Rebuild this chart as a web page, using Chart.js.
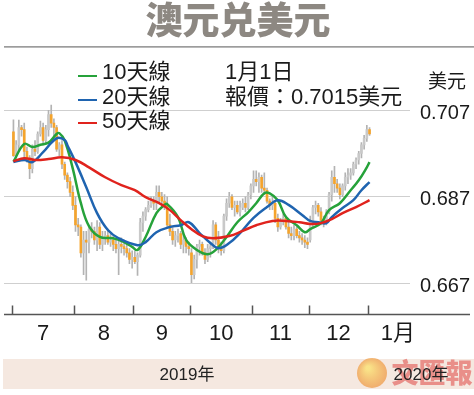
<!DOCTYPE html>
<html>
<head>
<meta charset="utf-8">
<script src="https://cdn.jsdelivr.net/npm/chart.js@4/dist/chart.umd.min.js"></script>
<style>
  body { margin: 0; background: #fff; }
  canvas { display: block; }
</style>
</head>
<body>
<canvas id="audChart" width="474" height="395"></canvas>
<script>
// trading days, 0 = 1 Jul 2019 ... 132 = 1 Jan 2020
const openPrices = [
  .7020, .6965, .6990, .7030, .7025, .6975, .6960, .6935, .6980, .6975,
  .7015, .7030, .7000, .7025, .7060, .7040, .7030, .6980, .6990, .6945,
  .6920, .6905, .6880, .6850, .6805, .6800, .6740, .6770, .6765, .6795,
  .6790, .6770, .6800, .6760, .6775, .6780, .6765, .6770, .6760, .6750,
  .6760, .6755, .6750, .6740, .6725, .6730, .6720, .6735, .6810, .6825,
  .6840, .6850, .6860, .6855, .6880, .6870, .6860, .6850, .6805, .6790,
  .6770, .6780, .6785, .6760, .6770, .6755, .6740, .6690, .6725, .6755,
  .6760, .6740, .6725, .6750, .6755, .6805, .6770, .6750, .6745, .6825,
  .6855, .6870, .6845, .6850, .6835, .6845, .6855, .6845, .6875, .6895,
  .6910, .6905, .6915, .6890, .6885, .6860, .6850, .6855, .6820, .6800,
  .6815, .6820, .6800, .6785, .6780, .6795, .6780, .6775, .6770, .6765,
  .6770, .6815, .6845, .6850, .6835, .6815, .6810, .6835, .6875, .6915,
  .6900, .6890, .6875, .6895, .6915, .6920, .6925, .6945, .6955, .6970,
  .6990, .7005, .7025
];
const highPrices = [
  .7048, .7000, .7047, .7035, .7040, .6985, .6965, .6990, .7000, .7020,
  .7045, .7040, .7035, .7070, .7082, .7050, .7035, .6995, .7000, .6950,
  .6925, .6915, .6895, .6870, .6820, .6805, .6790, .6790, .6800, .6810,
  .6800, .6815, .6810, .6790, .6790, .6795, .6785, .6780, .6775, .6775,
  .6775, .6770, .6760, .6750, .6745, .6745, .6740, .6820, .6835, .6845,
  .6860, .6870, .6870, .6895, .6895, .6880, .6875, .6870, .6830, .6800,
  .6790, .6795, .6790, .6785, .6775, .6765, .6750, .6735, .6760, .6770,
  .6765, .6750, .6760, .6765, .6815, .6810, .6790, .6765, .6830, .6865,
  .6880, .6875, .6860, .6860, .6860, .6865, .6870, .6880, .6900, .6930,
  .6930, .6925, .6920, .6925, .6890, .6865, .6870, .6860, .6830, .6820,
  .6830, .6825, .6815, .6800, .6805, .6800, .6790, .6785, .6780, .6775,
  .6825, .6850, .6860, .6855, .6845, .6825, .6840, .6880, .6930, .6940,
  .6910, .6900, .6900, .6925, .6935, .6935, .6950, .6960, .6975, .6995,
  .7012, .7035, .7030
];
const lowPrices = [
  .6963, .6960, .6975, .7010, .6960, .6950, .6912, .6925, .6965, .6970,
  .7010, .6990, .6995, .7010, .7030, .7010, .6975, .6965, .6935, .6910,
  .6890, .6870, .6840, .6790, .6780, .6730, .6690, .6677, .6740, .6775,
  .6760, .6745, .6750, .6745, .6760, .6760, .6755, .6745, .6740, .6690,
  .6740, .6735, .6730, .6715, .6705, .6715, .6688, .6730, .6790, .6815,
  .6835, .6845, .6840, .6840, .6855, .6850, .6840, .6800, .6780, .6760,
  .6755, .6765, .6750, .6740, .6740, .6735, .6671, .6680, .6705, .6735,
  .6735, .6715, .6720, .6730, .6750, .6760, .6740, .6735, .6740, .6815,
  .6845, .6840, .6825, .6830, .6825, .6840, .6835, .6840, .6865, .6880,
  .6895, .6880, .6880, .6875, .6855, .6840, .6840, .6810, .6790, .6795,
  .6805, .6795, .6775, .6770, .6770, .6775, .6765, .6760, .6752, .6750,
  .6765, .6800, .6830, .6825, .6805, .6800, .6805, .6830, .6860, .6880,
  .6880, .6865, .6870, .6885, .6900, .6910, .6920, .6935, .6945, .6960,
  .6980, .6998, .7012
];
const closePrices = [
  .6965, .6990, .7030, .7025, .6975, .6960, .6935, .6980, .6975, .7015,
  .7030, .7000, .7025, .7060, .7040, .7030, .6980, .6990, .6945, .6920,
  .6905, .6880, .6850, .6805, .6800, .6740, .6770, .6765, .6795, .6790,
  .6770, .6800, .6760, .6775, .6780, .6765, .6770, .6760, .6750, .6760,
  .6755, .6750, .6740, .6725, .6730, .6720, .6735, .6810, .6825, .6840,
  .6850, .6860, .6855, .6880, .6870, .6860, .6850, .6805, .6790, .6770,
  .6780, .6785, .6760, .6770, .6755, .6750, .6690, .6725, .6755, .6760,
  .6740, .6725, .6750, .6755, .6805, .6770, .6750, .6745, .6825, .6855,
  .6870, .6845, .6850, .6835, .6845, .6855, .6845, .6875, .6895, .6910,
  .6905, .6915, .6890, .6885, .6860, .6850, .6855, .6820, .6800, .6815,
  .6820, .6800, .6785, .6780, .6795, .6780, .6775, .6770, .6765, .6760,
  .6815, .6845, .6850, .6835, .6815, .6810, .6835, .6875, .6915, .6900,
  .6890, .6875, .6895, .6915, .6920, .6925, .6945, .6955, .6970, .6990,
  .7005, .7025, .7015
];

// moving averages (trading-day index, value)
const ma10Days = [0, 4, 7, 10, 13, 16, 17, 19, 22, 25, 28, 32, 37, 41, 44, 46, 49, 53, 56, 57, 61, 64, 68, 72, 75, 79, 83, 87, 90, 93, 95, 98, 101, 105, 108, 110, 114, 117, 121, 125, 128, 131, 132];
const ma10 = [.6951, .6992, .6985, .6990, .6995, .7015, .7017, .7000, .6935, .6855, .6802, .6777, .6774, .6765, .6754, .6747, .6777, .6832, .6851, .6853, .6823, .6770, .6747, .6737, .6747, .6777, .6811, .6834, .6855, .6878, .6878, .6862, .6823, .6804, .6788, .6795, .6809, .6839, .6855, .6885, .6908, .6938, .6950];
const ma20Days = [0, 4, 7, 11, 16, 19, 20, 23, 27, 31, 35, 39, 46, 49, 53, 58, 62, 65, 69, 73, 76, 80, 84, 89, 94, 98, 102, 107, 110, 113, 116, 118, 122, 126, 129, 132];
const ma20 = [.6950, .6955, .6950, .6973, .7005, .7001, .6989, .6950, .6892, .6832, .6793, .6774, .6758, .6765, .6788, .6800, .6804, .6811, .6786, .6763, .6751, .6763, .6786, .6821, .6846, .6862, .6851, .6828, .6814, .6811, .6809, .6823, .6844, .6862, .6885, .6904];
const ma50Days = [0, 4, 8, 13, 18, 23, 28, 34, 40, 45, 49, 54, 58, 62, 66, 70, 74, 80, 85, 90, 96, 101, 106, 110, 114, 118, 122, 127, 132];
const ma50 = [.6952, .6959, .6955, .6957, .6961, .6955, .6938, .6915, .6897, .6885, .6869, .6855, .6839, .6816, .6795, .6779, .6774, .6779, .6791, .6804, .6814, .6814, .6811, .6807, .6809, .6818, .6832, .6846, .6862];

const yTicks = [0.667, 0.687, 0.707];
const monthEdges = [-0.5, 22.5, 44.5, 65.5, 88.5, 109.5, 131.5];
const monthLabels = ["7", "8", "9", "10", "11", "12", "1月"];
const monthMids = [11, 33.5, 55, 77, 99, 120.5, 142.5];

const UP = "#c9c9c9";
const DOWN = "#f5a42c";
const NARROW = '"Liberation Sans Narrow", "Arial Narrow", "Liberation Sans", Arial';

const decor = {
  id: "decor",
  afterDraw(chart) {
    const { ctx, scales } = chart;
    const x = scales.x, y = scales.y;
    ctx.save();

    // title + rule
    ctx.fillStyle = "#8d8882";
    ctx.font = '900 37px "Noto Sans CJK SC"';
    ctx.textAlign = "center";
    ctx.textBaseline = "middle";
    ctx.fillText("澳元兑美元", 238, 20);
    ctx.fillStyle = "#9c9c9c";
    ctx.fillRect(4, 46, 470, 1.7);

    // legend
    const legend = [["10天線", "#26a23a", 73, 76], ["20天線", "#1f64b0", 98, 100], ["50天線", "#e0231d", 122, 123]];
    ctx.textAlign = "left";
    ctx.font = '22px ' + NARROW + ', "Noto Sans CJK TC"';
    legend.forEach(([label, color, ty, ly]) => {
      ctx.fillStyle = color;
      ctx.fillRect(78, ly - 1, 19, 2);
      ctx.fillStyle = "#1a1a1a";
      ctx.fillText(label, 102, ty);
    });
    ctx.fillText("1月1日", 225, 73);
    ctx.fillText("報價：0.7015美元", 225, 98);

    // right axis
    ctx.textAlign = "center";
    ctx.font = '19px "Noto Sans CJK TC"';
    ctx.fillText("美元", 447, 81);
    ctx.font = '20px ' + NARROW;
    yTicks.forEach(v => ctx.fillText(v.toFixed(3), 445, y.getPixelForValue(v) + 3));

    // x axis
    const base = Math.round(y.bottom) + 0.5;
    ctx.strokeStyle = "#555";
    ctx.lineWidth = 1.5;
    ctx.beginPath();
    ctx.moveTo(4, base);
    ctx.lineTo(470, base);
    monthEdges.forEach(d => {
      const px = Math.round(x.getPixelForValue(d)) + 0.5;
      ctx.moveTo(px, base - 9);
      ctx.lineTo(px, base);
    });
    ctx.stroke();
    ctx.font = '22px ' + NARROW + ', "Noto Sans CJK TC"';
    monthLabels.forEach((m, i) => ctx.fillText(m, x.getPixelForValue(monthMids[i]), 334));

    // year band
    ctx.fillStyle = "#f5e8e0";
    ctx.fillRect(3, 359, 471, 30);
    // logo
    const g = ctx.createRadialGradient(368, 368, 2, 372, 373, 16);
    g.addColorStop(0, "rgba(250, 225, 120, 0.85)");
    g.addColorStop(1, "rgba(238, 150, 70, 0.75)");
    ctx.fillStyle = g;
    ctx.beginPath();
    ctx.arc(372, 373, 15, 0, Math.PI * 2);
    ctx.fill();
    ctx.fillStyle = "rgba(222, 70, 65, 0.55)";
    ctx.font = '900 27px "Noto Sans CJK TC"';
    ctx.fillText("文匯報", 432, 373);

    ctx.fillStyle = "#222";
    ctx.font = '17px ' + NARROW + ', "Noto Sans CJK TC"';
    ctx.fillText("2019年", 187, 375);
    ctx.fillText("2020年", 421, 375);
    ctx.restore();
  }
};

function renderChart() {
  const ctx = document.getElementById("audChart").getContext("2d");
  const wicks = lowPrices.map((lo, i) => ({ x: i, y: [lo, highPrices[i]] }));
  const bodies = openPrices.map((o, i) => ({ x: i, y: [o, closePrices[i]] }));
  const bodyColors = openPrices.map((o, i) => (closePrices[i] < o ? DOWN : UP));
  const line = (days, vals, color) => ({
    type: "line",
    data: days.map((d, i) => ({ x: d, y: vals[i] })),
    borderColor: color,
    borderWidth: 2.5,
    pointRadius: 0,
    tension: 0.4,
    order: 0,
  });

  new Chart(ctx, {
    type: "bar",
    data: {
      datasets: [
        line(ma50Days, ma50, "#e0231d"),
        line(ma20Days, ma20, "#1f64b0"),
        line(ma10Days, ma10, "#26a23a"),
        {
          data: bodies,
          backgroundColor: bodyColors,
          barThickness: 2,
          minBarLength: 1,
          grouped: false,
          order: 1,
        },
        {
          data: wicks,
          backgroundColor: "#b3b3b3",
          barThickness: 1,
          grouped: false,
          order: 2,
        },
      ],
    },
    options: {
      responsive: false,
      animation: false,
      layout: { padding: { left: 4, right: 64, top: 54, bottom: 81.5 } },
      plugins: {
        legend: { display: false },
        tooltip: { enabled: false },
      },
      scales: {
        x: { type: "linear", min: -3.5, max: 147, offset: false, display: false },
        y: {
          min: 0.66,
          max: 0.72,
          position: "right",
          afterBuildTicks: (scale) => {
            scale.ticks = yTicks.map((v) => ({ value: v }));
          },
          ticks: { display: false },
          grid: { color: "#cfcfcf", drawTicks: false },
          border: { display: false },
        },
      },
    },
    plugins: [decor],
  });
}

renderChart();
</script>
</body>
</html>
